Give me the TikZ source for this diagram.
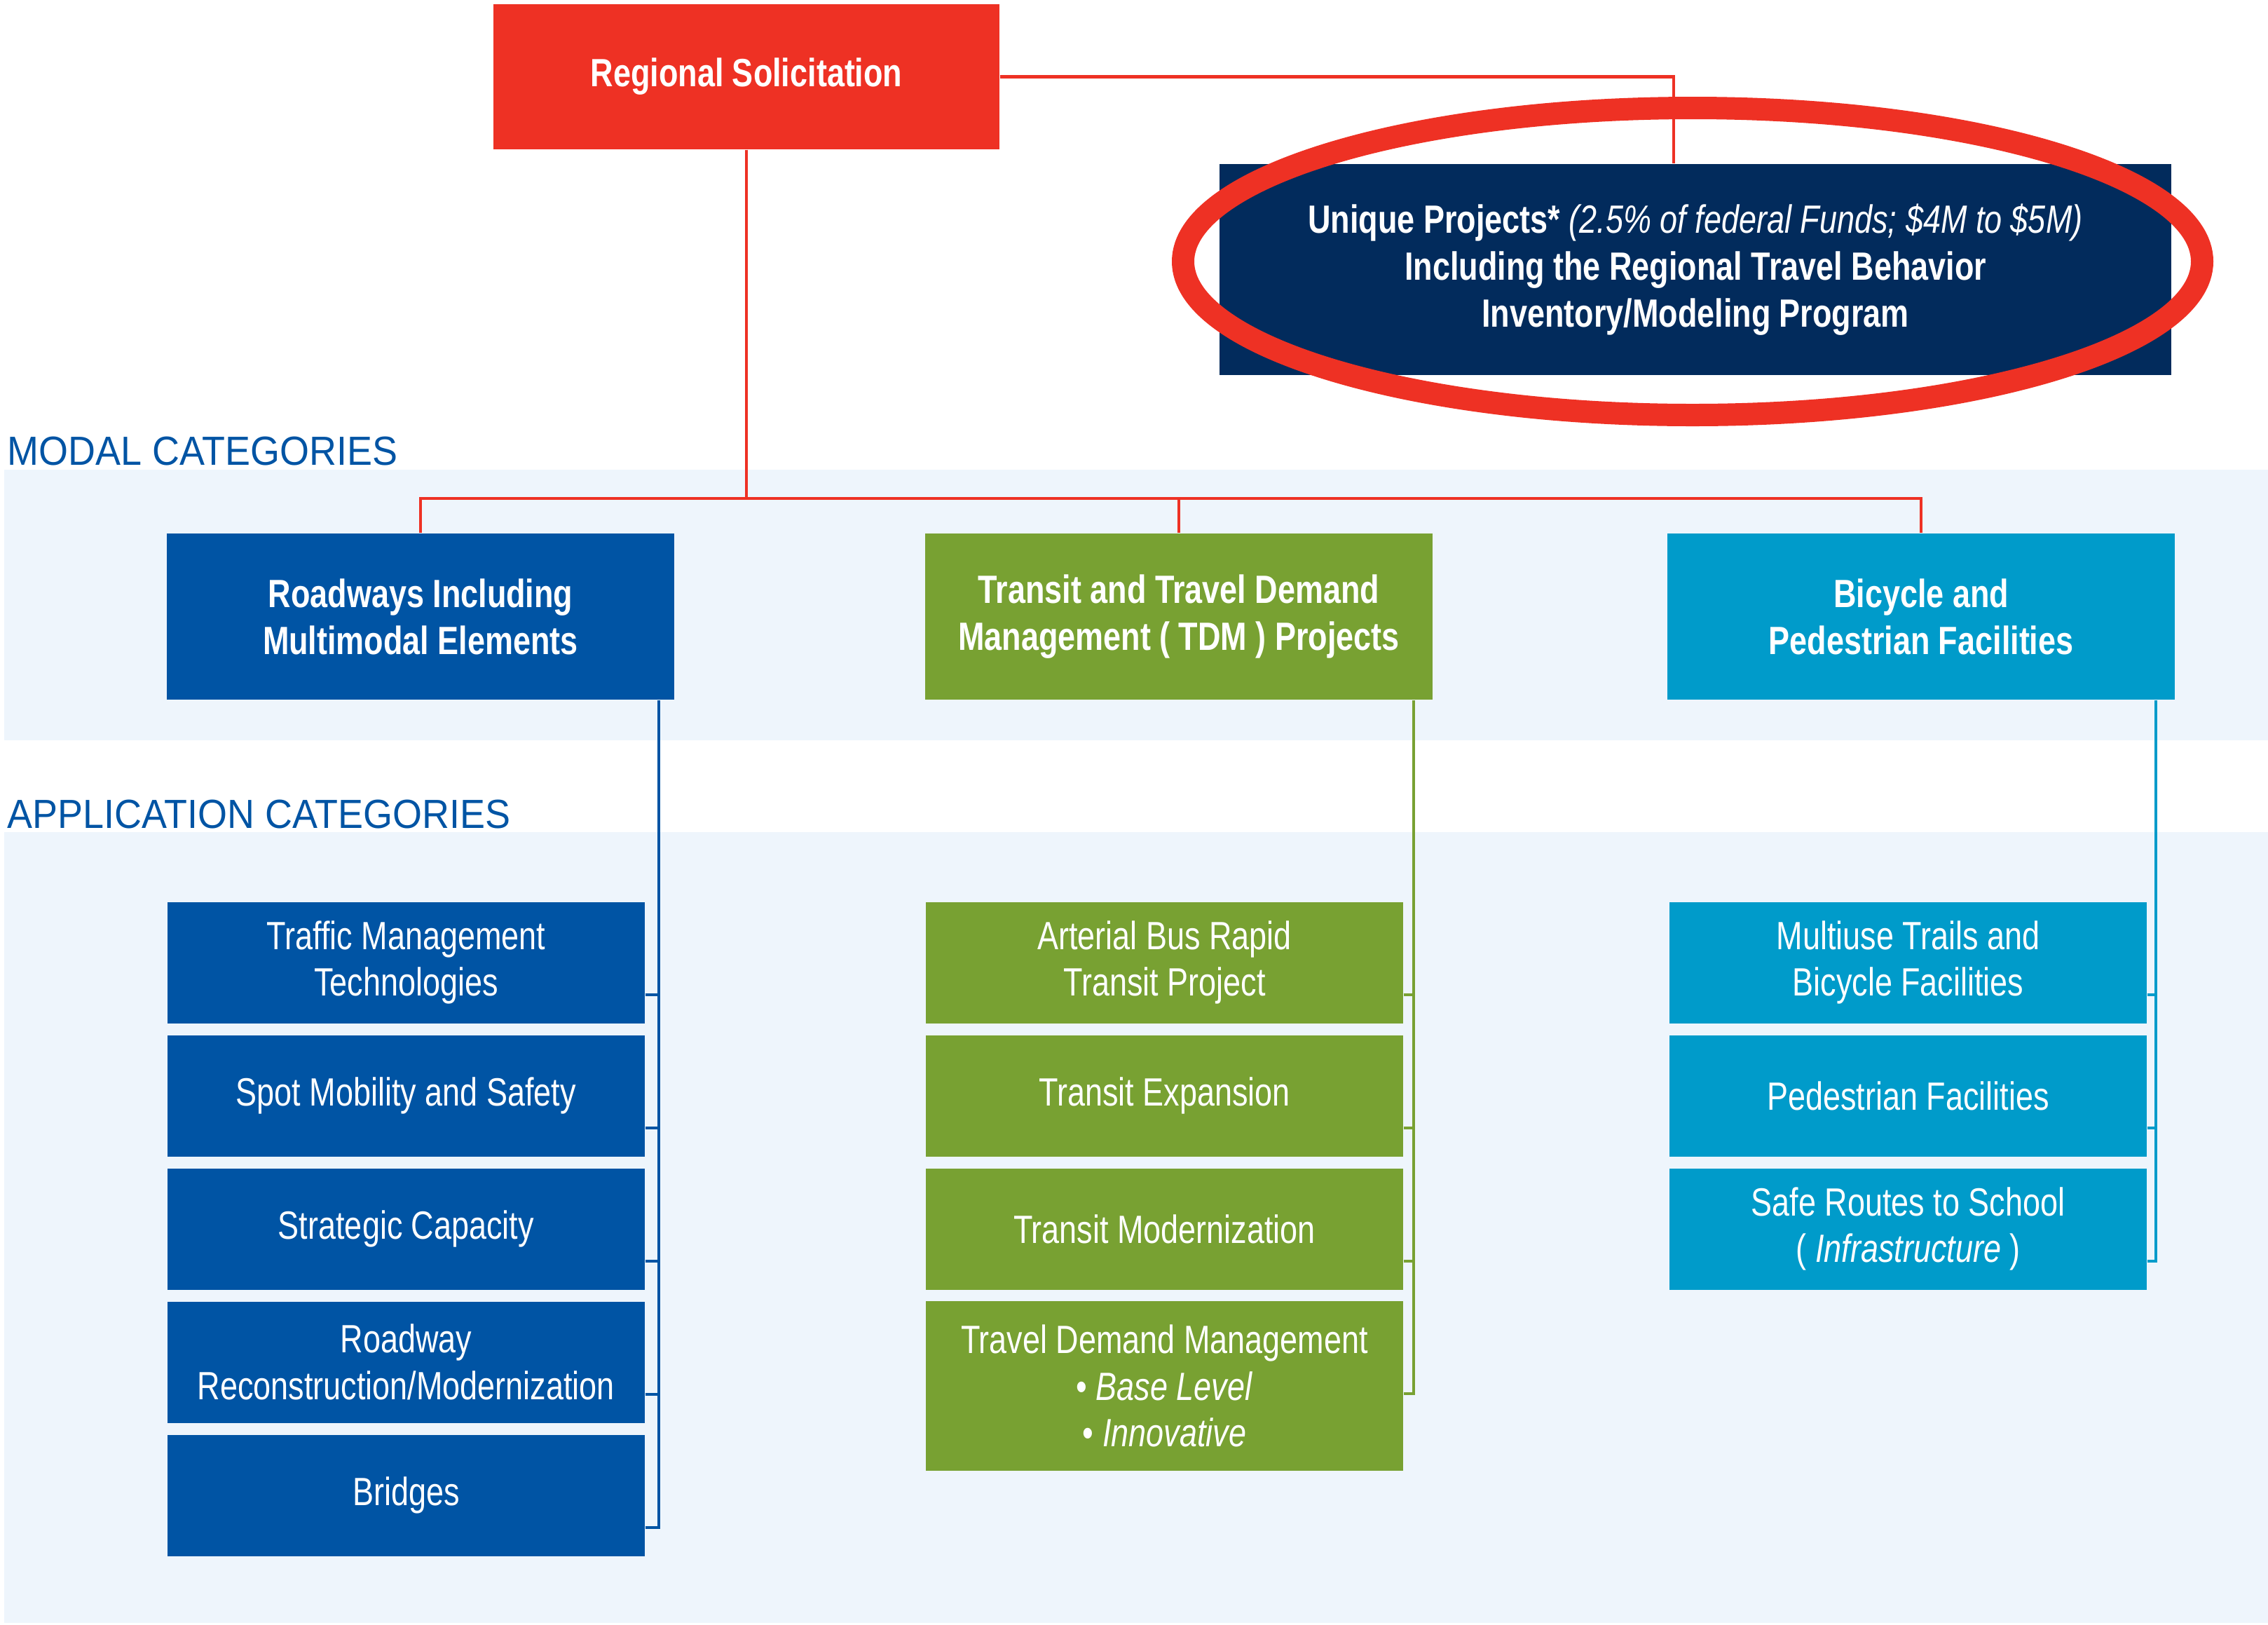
\documentclass[tikz,border=0pt]{standalone}
\usepackage{fontspec}
\setmainfont{Liberation Sans}[FakeStretch=0.8]
\newfontfamily\headfont{Liberation Sans}[FakeStretch=0.93]
\definecolor{rsred}{HTML}{EE3124}
\definecolor{rsnavy}{HTML}{022B5C}
\definecolor{rsblue}{HTML}{0054A4}
\definecolor{rsgreen}{HTML}{78A132}
\definecolor{rscyan}{HTML}{009BCA}
\definecolor{rsband}{HTML}{EEF5FC}
\begin{document}
\begin{tikzpicture}[
  box/.style={rectangle, inner sep=0pt, align=center, text=white, font=\fontsize{16}{19}\selectfont},
  modal/.style={box, minimum width=7.24cm, minimum height=2.37cm, font=\fontsize{16}{19}\selectfont\bfseries},
  app/.style={box, minimum width=6.81cm, minimum height=1.73cm},
  head/.style={anchor=base west, inner sep=0pt, text=rsblue, font=\headfont\fontsize{16.5}{19}\selectfont},
  redline/.style={draw=rsred, line width=1.4pt},
  branch/.style={line width=1.2pt}
]
\useasboundingbox (0,0) rectangle (32.36,-23.17);
% light bands
\fill[rsband] (0.06,-6.70) rectangle (32.36,-10.56);
\fill[rsband] (0.06,-11.87) rectangle (32.36,-23.15);

% top
\node[box, fill=rsred, minimum width=7.22cm, minimum height=2.07cm, font=\fontsize{16}{19}\selectfont\bfseries] (regsol) at (10.65,-1.095) {Regional Solicitation};
\node[box, fill=rsnavy, minimum width=13.58cm, minimum height=3.01cm] (unique) at (24.19,-3.845)
  {\textbf{Unique Projects*} \textit{(2.5\% of federal Funds; \$4M to \$5M)}\\
   \textbf{Including the Regional Travel Behavior}\\
   \textbf{Inventory/Modeling Program}};
\draw[redline] (regsol.east) -| ([xshift=-3.1mm]unique.north);
\draw[rsred, line width=0.32cm] (24.15,-3.73) ellipse (7.27 and 2.19);

\node[head] (modalhead) at (0.10,-6.63) {MODAL CATEGORIES};
\node[head] (apphead) at (0.10,-11.81) {APPLICATION CATEGORIES};

% modal categories
\node[modal, fill=rsblue] (road) at (6.0,-8.795) {Roadways Including\\Multimodal Elements};
\node[modal, fill=rsgreen] (transit) at (16.82,-8.795) {Transit and Travel Demand\\Management ( TDM ) Projects};
\node[modal, fill=rscyan] (bike) at (27.41,-8.795) {Bicycle and\\Pedestrian Facilities};
\coordinate (bus) at (10.65,-7.11);
\draw[redline] (regsol.south) -- (bus);
\draw[redline] (road.north) |- (bike.north |- bus) -- (bike.north);
\draw[redline] (transit.north) -- (transit.north |- bus);

% application categories
\node[app, fill=rsblue] (rd1) at (5.795,-13.73) {Traffic Management\\Technologies};
\node[app, fill=rsblue] (rd2) at (5.795,-15.63) {Spot Mobility and Safety};
\node[app, fill=rsblue] (rd3) at (5.795,-17.53) {Strategic Capacity};
\node[app, fill=rsblue] (rd4) at (5.795,-19.43) {Roadway\\Reconstruction/Modernization};
\node[app, fill=rsblue] (rd5) at (5.795,-21.33) {Bridges};

\node[app, fill=rsgreen] (tr1) at (16.615,-13.73) {Arterial Bus Rapid\\Transit Project};
\node[app, fill=rsgreen] (tr2) at (16.615,-15.63) {Transit Expansion};
\node[app, fill=rsgreen] (tr3) at (16.615,-17.53) {Transit Modernization};
\node[app, fill=rsgreen, minimum height=2.42cm] (tr4) at (16.615,-19.77)
  {Travel Demand Management\\\textbullet\ \textit{Base Level}\\\textbullet\ \textit{Innovative}};

\node[app, fill=rscyan] (bk1) at (27.225,-13.73) {Multiuse Trails and\\Bicycle Facilities};
\node[app, fill=rscyan] (bk2) at (27.225,-15.63) {Pedestrian Facilities};
\node[app, fill=rscyan] (bk3) at (27.225,-17.53) {Safe Routes to School\\( \textit{Infrastructure} )};

\foreach \b in {rd1,rd2,rd3,rd4,rd5}
  \draw[branch, rsblue] ([yshift=-13.3mm]\b.north east) -| ([xshift=-2.3mm]road.south east);
\foreach \b in {tr1,tr2,tr3,tr4}
  \draw[branch, rsgreen] ([yshift=-13.3mm]\b.north east) -| ([xshift=-2.8mm]transit.south east);
\foreach \b in {bk1,bk2,bk3}
  \draw[branch, rscyan] ([yshift=-13.3mm]\b.north east) -| ([xshift=-2.8mm]bike.south east);
\end{tikzpicture}
\end{document}
